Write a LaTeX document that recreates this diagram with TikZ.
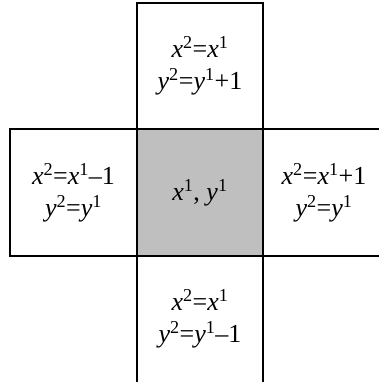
\documentclass[tikz,border=0pt]{standalone}
\usepackage{fontspec}
\setmainfont{Liberation Serif}
\newcommand{\vx}{\textit{x}}
\newcommand{\vy}{\textit{y}}
\newcommand{\sups}[1]{\textsuperscript{#1}}
\begin{document}
\begin{tikzpicture}[x=1pt,y=-1pt,
  cell/.style={draw=black, line width=2pt, minimum width=126.5pt, minimum height=126.5pt,
    inner sep=0pt, align=center, font=\fontsize{26}{32}\selectfont},
  celltext/.style={inner sep=0pt, align=center, font=\fontsize{26}{32}\selectfont},
  mid/.style={cell, fill=black!25}]
\useasboundingbox (0,0) rectangle (379,382);
\node[cell] (top) at (200,66) {\vx\sups{2}=\vx\sups{1}\\\vy\sups{2}=\vy\sups{1}+1};
\node[cell, minimum height=150pt] (bottom) at (200,331) {};
\node[celltext] (bottomtext) at (200,319) {\vx\sups{2}=\vx\sups{1}\\\vy\sups{2}=\vy\sups{1}–1};
\node[cell] (left) at (73.5,192.5) {\vx\sups{2}=\vx\sups{1}–1\\\vy\sups{2}=\vy\sups{1}};
\node[cell, minimum width=140pt] (rightbox) at (333,192.5) {};
\node[celltext] (right) at (324,192.5) {\vx\sups{2}=\vx\sups{1}+1\\\vy\sups{2}=\vy\sups{1}};
\node[mid] (center) at (200,192.5) {\vx\sups{1}, \vy\sups{1}};
\end{tikzpicture}
\end{document}
